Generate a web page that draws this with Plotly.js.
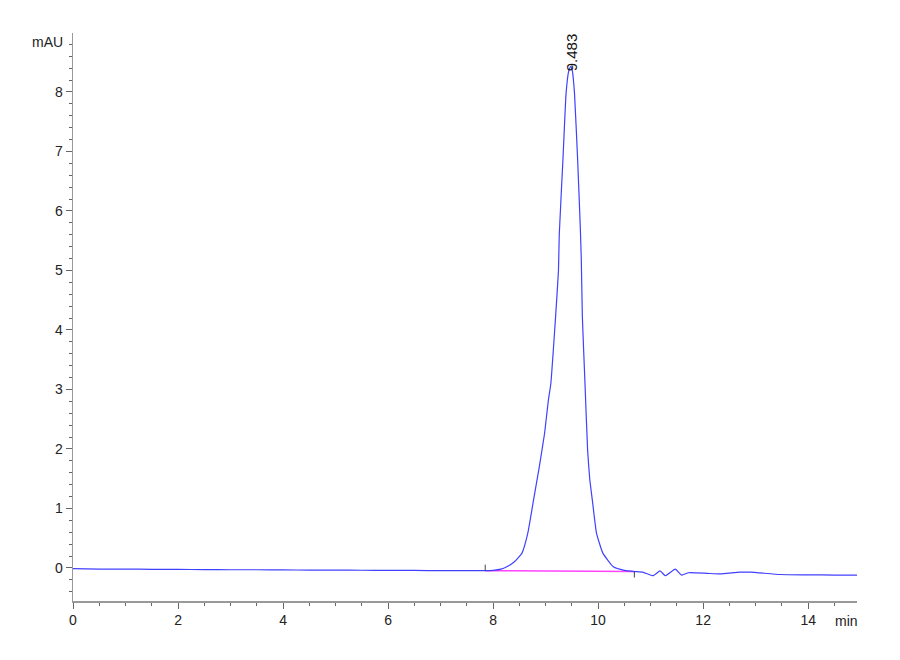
<!DOCTYPE html>
<html>
<head>
<meta charset="utf-8">
<script src="https://cdn.plot.ly/plotly-3.0.1.min.js"></script>
<style>html,body{margin:0;padding:0;background:#fff;}#chart{width:900px;height:660px;}</style>
</head>
<body>
<div id="chart"></div>
<script>
// Retention time (min) and signal (mAU)
const timeMin = [0.0, 0.5, 1.0, 1.5, 2.0, 2.5, 3.0, 3.5, 4.0, 4.5, 5.0, 5.5, 6.0, 6.5, 7.0, 7.5, 7.85, 8.0, 8.15, 8.26, 8.4, 8.55, 8.66, 8.77, 8.88, 8.98, 9.05, 9.1, 9.15, 9.19, 9.245, 9.26, 9.33, 9.39, 9.44, 9.48, 9.51, 9.55, 9.61, 9.66, 9.68, 9.70, 9.75, 9.80, 9.84, 9.89, 9.97, 10.09, 10.29, 10.5, 10.69, 10.85, 11.05, 11.18, 11.28, 11.47, 11.59, 11.72, 12.07, 12.32, 12.7, 12.9, 13.47, 14.0, 14.5, 14.93];
const signalMAU = [-0.012, -0.018, -0.02, -0.022, -0.025, -0.027, -0.03, -0.03, -0.033, -0.035, -0.035, -0.038, -0.04, -0.042, -0.045, -0.045, -0.045, -0.04, -0.02, 0.02, 0.1, 0.25, 0.58, 1.14, 1.7, 2.26, 2.8, 3.1, 3.7, 4.22, 5.0, 5.6, 6.86, 7.98, 8.35, 8.43, 8.35, 7.98, 6.86, 5.74, 5.18, 4.22, 3.1, 1.98, 1.5, 1.14, 0.58, 0.25, 0.02, -0.04, -0.06, -0.07, -0.13, -0.05, -0.13, -0.02, -0.12, -0.08, -0.09, -0.1, -0.07, -0.07, -0.11, -0.115, -0.12, -0.12];

// Integration baseline (start, end)
const baselineT = [7.85, 10.69];
const baselineV = [-0.045, -0.06];

// Peak label
const peakRT = 9.483;
const peakHeight = 8.43;
const peakLabel = "9.483";

const xTickVals = [0, 2, 4, 6, 8, 10, 12, 14];
const yTickVals = [0, 1, 2, 3, 4, 5, 6, 7, 8];

const fontFam = "'Liberation Sans Narrow', 'Liberation Sans', Arial, sans-serif";
const textColor = "#222";
const axisColor = "#999";

const traces = [
  {
    x: baselineT, y: baselineV, type: 'scatter', mode: 'lines',
    line: {color: '#ff44ff', width: 1.5}, hoverinfo: 'skip'
  },
  {
    x: timeMin, y: signalMAU, type: 'scatter', mode: 'lines',
    line: {color: '#4040ff', width: 1.2, shape: 'spline', smoothing: 0.4}, hoverinfo: 'skip'
  }
];

const shapes = [
  {type: 'line', xref: 'x', yref: 'y', ysizemode: 'pixel', yanchor: baselineV[0],
   x0: baselineT[0], x1: baselineT[0], y0: 0, y1: 6, line: {color: '#444', width: 1}},
  {type: 'line', xref: 'x', yref: 'y', ysizemode: 'pixel', yanchor: baselineV[1],
   x0: baselineT[1], x1: baselineT[1], y0: 0, y1: -6, line: {color: '#444', width: 1}}
];

const layout = {
  width: 900, height: 660,
  margin: {l: 73, r: 43, t: 33, b: 59},
  paper_bgcolor: '#fff', plot_bgcolor: '#fff',
  showlegend: false,
  font: {family: fontFam, size: 14, color: textColor},
  xaxis: {
    range: [0, 14.93], tickvals: xTickVals, ticktext: xTickVals.map(String),
    ticks: 'outside', ticklen: 6, tickcolor: '#666', tickwidth: 1,
    showline: true, linecolor: axisColor, linewidth: 1.5,
    showgrid: false, zeroline: false,
    minor: {dtick: 0.5, tick0: 0, ticks: 'outside', ticklen: 3, tickcolor: '#666', showgrid: false},
    tickfont: {family: fontFam, size: 14, color: textColor}
  },
  yaxis: {
    range: [-0.555, 8.99], tickvals: yTickVals, ticktext: yTickVals.map(String),
    ticks: 'outside', ticklen: 6, tickcolor: '#666', tickwidth: 1,
    showline: true, linecolor: axisColor, linewidth: 1.5,
    showgrid: false, zeroline: false,
    minor: {dtick: 0.2, tick0: 0, ticks: 'outside', ticklen: 3, tickcolor: '#666', showgrid: false},
    tickfont: {family: fontFam, size: 14, color: textColor}
  },
  shapes: shapes,
  annotations: [
    {text: 'mAU', xref: 'paper', yref: 'y', x: 0, y: 8.84, xanchor: 'right', yanchor: 'middle',
     xshift: -8, showarrow: false, font: {family: fontFam, size: 14, color: textColor}},
    {text: 'min', xref: 'x', yref: 'paper', x: 14.93, y: 0, xanchor: 'right', yanchor: 'top',
     xshift: 3, yshift: -10, showarrow: false, font: {family: fontFam, size: 14, color: textColor}},
    {text: peakLabel, xref: 'x', yref: 'y', x: peakRT, y: peakHeight, textangle: -90,
     xanchor: 'center', yanchor: 'bottom', yshift: -7, showarrow: false,
     font: {family: "'Liberation Sans', Arial, sans-serif", size: 15, color: '#111'}}
  ]
};

Plotly.newPlot('chart', traces, layout, {staticPlot: true, displayModeBar: false});
</script>
</body>
</html>
